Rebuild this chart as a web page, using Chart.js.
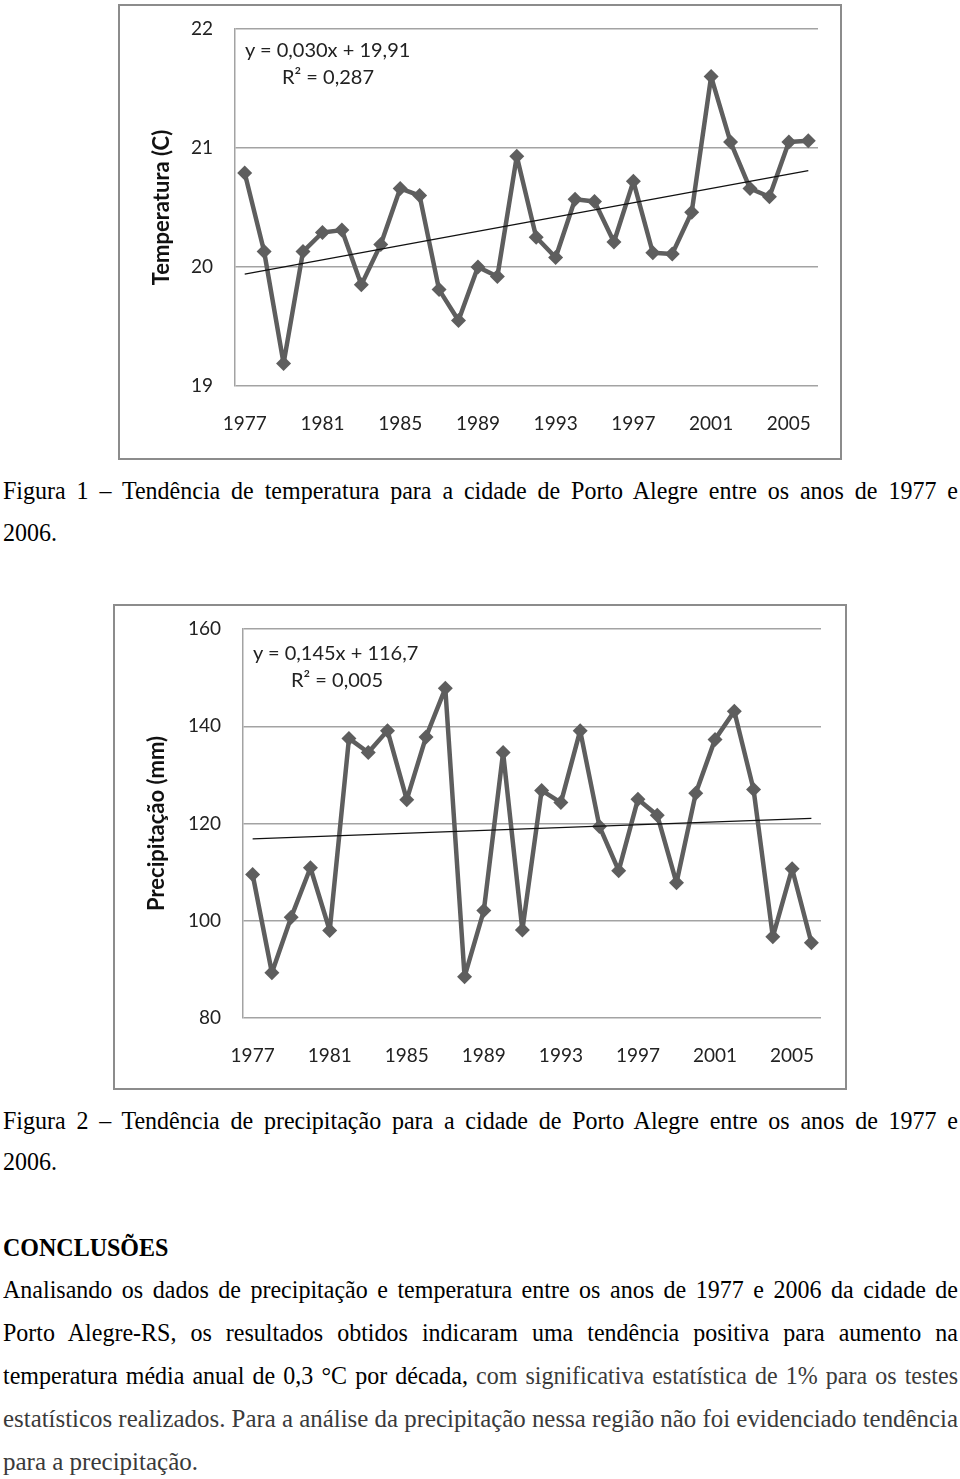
<!DOCTYPE html>
<html lang="pt">
<head>
<meta charset="utf-8">
<script src="https://cdn.jsdelivr.net/npm/chart.js@4"></script>
<style>
  html, body { margin: 0; padding: 0; background: #fff; }
  body { width: 960px; height: 1479px; position: relative; overflow: hidden; }
  .box { position: absolute; border: 2px solid #8c8c8c; box-sizing: border-box; background: #fff; }
  .box canvas { position: absolute; left: 0; top: 0; }
  .eq { position: absolute; font-family: Lato, "Open Sans", sans-serif; font-size: 20px; color: #222; white-space: nowrap; line-height: 24px; }
  .ln { position: absolute; left: 3px; height: 40px; line-height: 40px; white-space: nowrap;
        font-family: "Liberation Serif", "Times New Roman", serif; font-size: 25px; color: #000; }
  .ln span.t { display: inline-block; transform-origin: left center; }
  .gr { color: #3a3a3a; }
</style>
</head>
<body>

<div class="box" style="left:118px; top:4px; width:724px; height:456px;">
  <canvas id="tempChart" width="720" height="452"></canvas>
</div>
<div class="eq" style="left:245px; top:37px;">y = 0,030x + 19,91</div>
<div class="eq" style="left:282px; top:64px;">R² = 0,287</div>

<div class="ln" style="top:471px;"><span class="t j">Figura 1 – Tendência de temperatura para a cidade de Porto Alegre entre os anos de 1977 e</span></div>
<div class="ln" style="top:513px;"><span class="t">2006.</span></div>

<div class="box" style="left:113px; top:604px; width:734px; height:486px;">
  <canvas id="precChart" width="730" height="482"></canvas>
</div>
<div class="eq" style="left:253px; top:640px;">y = 0,145x + 116,7</div>
<div class="eq" style="left:291px; top:667px;">R² = 0,005</div>

<div class="ln" style="top:1101px;"><span class="t j">Figura 2 – Tendência de precipitação para a cidade de Porto Alegre entre os anos de 1977 e</span></div>
<div class="ln" style="top:1142px;"><span class="t">2006.</span></div>

<div class="ln" style="top:1228px; font-weight:bold;"><span class="t">CONCLUSÕES</span></div>
<div class="ln" style="top:1270px;"><span class="t j">Analisando os dados de precipitação e temperatura entre os anos de 1977 e 2006 da cidade de</span></div>
<div class="ln" style="top:1313px;"><span class="t j">Porto Alegre-RS, os resultados obtidos indicaram uma tendência positiva para aumento na</span></div>
<div class="ln" style="top:1356px;"><span class="t j">temperatura média anual de 0,3 °C por década, <span class="gr">com significativa estatística de 1% para os testes</span></span></div>
<div class="ln gr" style="top:1399px;"><span class="t j w">estatísticos realizados. Para a análise da precipitação nessa região não foi evidenciado tendência</span></div>
<div class="ln gr" style="top:1442px;"><span class="t w">para a precipitação.</span></div>

<script>
// --- data ---
const years = [1977, 1978, 1979, 1980, 1981, 1982, 1983, 1984, 1985, 1986,
               1987, 1988, 1989, 1990, 1991, 1992, 1993, 1994, 1995, 1996,
               1997, 1998, 1999, 2000, 2001, 2002, 2003, 2004, 2005, 2006];
const yearTicks = [1977, 1981, 1985, 1989, 1993, 1997, 2001, 2005];

const temperature = [20.79, 20.13, 19.19, 20.13, 20.29, 20.31, 19.85, 20.19, 20.66, 20.60,
                     19.81, 19.55, 20.00, 19.92, 20.93, 20.25, 20.08, 20.57, 20.55, 20.21,
                     20.72, 20.12, 20.11, 20.46, 21.60, 21.05, 20.66, 20.59, 21.05, 21.06];
const tempTrend = [19.94, 20.81];   // first / last year of the fitted line
const tempTicks = [19, 20, 21, 22];

const precipitation = [109.5, 89.3, 100.7, 110.9, 98.0, 137.5, 134.6, 139.1, 124.9, 137.8,
                       147.8, 88.5, 102.1, 134.6, 98.1, 126.8, 124.3, 139.1, 119.4, 110.3,
                       125.0, 121.7, 107.8, 126.2, 137.3, 143.1, 127.0, 96.7, 110.7, 95.5];
const precTrend = [116.85, 121.05];
const precTicks = [80, 100, 120, 140, 160];

// --- shared styling ---
const tickFont = { family: "Lato", size: 19 };
const titleFont = { family: "Lato", size: 22, weight: "bold" };
const gridColor = "#a3a3a3";
const seriesColor = "#5e5e5e";

function trendData(ends) {
  return years.map((y, i) => i === 0 ? ends[0] : (i === years.length - 1 ? ends[1] : null));
}

function makeChart(id, opts) {
  return new Chart(document.getElementById(id), {
    type: "line",
    data: {
      labels: years,
      datasets: [
        {
          data: trendData(opts.trend),
          borderColor: "#111",
          borderWidth: 1.3,
          pointRadius: 0,
          spanGaps: true,
          order: 0
        },
        {
          data: opts.values,
          borderColor: seriesColor,
          borderWidth: 4.5,
          borderJoinStyle: "round",
          tension: 0,
          pointStyle: "rectRot",
          pointRadius: 7.5,
          pointBackgroundColor: seriesColor,
          pointBorderColor: seriesColor,
          pointBorderWidth: 0,
          order: 1
        }
      ]
    },
    options: {
      responsive: false,
      animation: false,
      devicePixelRatio: 1,
      layout: { padding: { top: 23, right: opts.padRight, left: 0, bottom: 0 } },
      plugins: { legend: { display: false }, tooltip: { enabled: false } },
      scales: {
        x: {
          type: "category",
          offset: true,
          grid: { display: false, drawTicks: false },
          border: { display: false },
          ticks: {
            autoSkip: false,
            maxRotation: 0,
            padding: 26,
            color: "#222",
            font: tickFont,
            callback: (v, i) => yearTicks.includes(years[i]) ? String(years[i]) : ""
          },
          afterFit: (s) => { s.height = opts.xHeight; }
        },
        y: {
          min: opts.ticks[0],
          max: opts.ticks[opts.ticks.length - 1],
          afterBuildTicks: (s) => { s.ticks = opts.ticks.map(v => ({ value: v })); },
          grid: { color: gridColor, lineWidth: 1.5, drawTicks: false },
          border: { display: true, color: gridColor, width: 1.5 },
          ticks: { padding: 22, color: "#222", font: tickFont },
          title: {
            display: true,
            text: opts.title,
            color: "#111",
            font: titleFont,
            padding: { top: 29, bottom: 0 }
          },
          afterFit: (s) => {
            s.width = opts.yWidth;
            // let the layout padding alone decide where the plot starts
            s.paddingTop = 0;
            s.paddingBottom = 0;
          }
        }
      }
    }
  });
}

makeChart("tempChart", {
  values: temperature, trend: tempTrend, ticks: tempTicks,
  title: "Temperatura (C)", yWidth: 115, xHeight: 72, padRight: 22
});

makeChart("precChart", {
  values: precipitation, trend: precTrend, ticks: precTicks,
  title: "Precipitação (mm)", yWidth: 128, xHeight: 70, padRight: 24
});

// --- fit each text line: scanned text is a bit narrower than the font, lines are justified ---
const lineWidth = 955;
document.querySelectorAll(".ln span.t").forEach((el) => {
  const squeeze = el.classList.contains("w") ? 1 : 0.96;
  const w = el.getBoundingClientRect().width;
  let scale = squeeze;
  if (el.classList.contains("j")) {
    if (w * squeeze > lineWidth) {
      scale = lineWidth / w;
    } else {
      const spaces = (el.textContent.match(/ /g) || []).length;
      if (spaces) el.style.wordSpacing = ((lineWidth / squeeze - w) / spaces) + "px";
    }
  }
  el.style.transform = "scaleX(" + scale + ")";
});
</script>
</body>
</html>
